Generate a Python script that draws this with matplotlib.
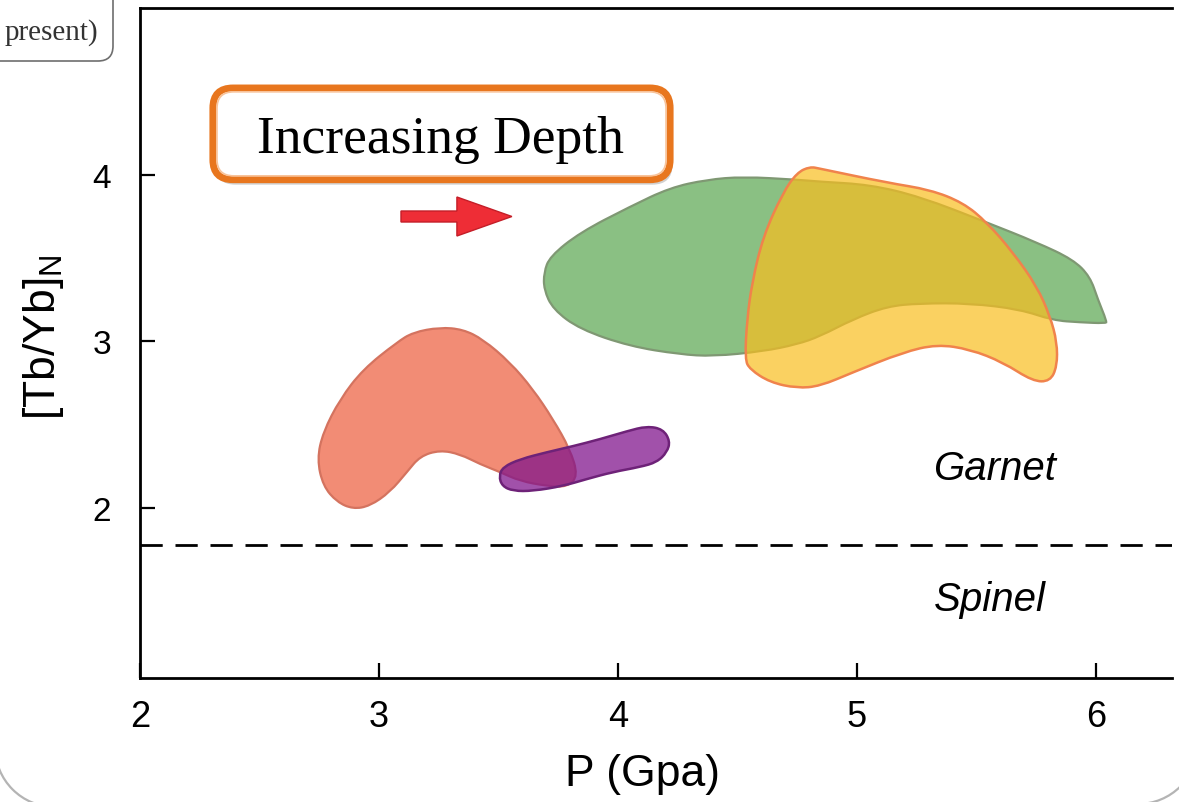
import numpy as np
import matplotlib
matplotlib.use('Agg')
from matplotlib import pyplot as plt
from matplotlib.path import Path
from matplotlib.patches import PathPatch, FancyBboxPatch, FancyArrow, Arc
from matplotlib.colors import to_rgba

plt.rcParams['font.family'] = ['Liberation Sans', 'DejaVu Sans']
plt.rcParams['mathtext.default'] = 'regular'
plt.rcParams['savefig.bbox'] = 'standard'

# outline of each field, P (GPa) vs [Tb/Yb]N
salmon_p = [3.255, 3.142, 3.075, 2.933, 2.837, 2.766, 2.741, 2.766, 2.824, 2.891,
            2.962, 3.046, 3.117, 3.172, 3.255, 3.339, 3.423, 3.506, 3.590, 3.703,
            3.787, 3.833, 3.799, 3.728, 3.644, 3.548, 3.435, 3.351]
salmon_tb = [3.084, 3.054, 2.994, 2.832, 2.653, 2.455, 2.293, 2.132, 2.036, 1.994,
             2.012, 2.096, 2.216, 2.311, 2.347, 2.323, 2.263, 2.216, 2.162, 2.132,
             2.126, 2.192, 2.353, 2.533, 2.713, 2.874, 3.012, 3.072]

purple_p = [3.502, 3.519, 3.590, 3.703, 3.812, 3.925, 4.038, 4.121, 4.188, 4.218,
            4.205, 4.163, 4.092, 3.979, 3.870, 3.770, 3.644, 3.561, 3.515]
purple_tb = [2.192, 2.246, 2.293, 2.335, 2.371, 2.413, 2.461, 2.491, 2.473, 2.401,
             2.335, 2.275, 2.246, 2.216, 2.174, 2.132, 2.102, 2.102, 2.132]

green_p = [3.690, 3.715, 3.841, 4.050, 4.218, 4.372, 4.523, 4.749, 4.845, 5.054,
           5.264, 5.544, 5.753, 5.904, 5.975, 6.008, 6.045, 6.040, 5.933, 5.820,
           5.682, 5.473, 5.264, 5.126, 4.983, 4.845, 4.749, 4.607, 4.397, 4.259,
           4.050, 3.841, 3.728, 3.690]
green_tb = [3.413, 3.509, 3.653, 3.808, 3.922, 3.970, 3.988, 3.970, 3.958, 3.940,
            3.868, 3.713, 3.593, 3.491, 3.389, 3.251, 3.120, 3.108, 3.114, 3.126,
            3.192, 3.228, 3.228, 3.210, 3.132, 3.030, 2.982, 2.940, 2.910, 2.922,
            2.970, 3.072, 3.192, 3.311]

yellow_p = [4.749, 4.803, 4.845, 5.126, 5.305, 5.444, 5.544, 5.653, 5.753, 5.808,
            5.837, 5.837, 5.808, 5.736, 5.611, 5.473, 5.335, 5.192, 4.983, 4.845,
            4.749, 4.636, 4.552, 4.531, 4.540, 4.561, 4.607, 4.690]
yellow_tb = [4.012, 4.048, 4.036, 3.952, 3.910, 3.832, 3.713, 3.533, 3.329, 3.150,
             2.994, 2.850, 2.760, 2.760, 2.874, 2.952, 2.982, 2.934, 2.814, 2.731,
             2.719, 2.754, 2.832, 2.892, 3.132, 3.353, 3.629, 3.892]

spinel_garnet = 1.78
x_ticks = [2, 3, 4, 5, 6]
y_ticks = [2, 3, 4]


def blob(xs, ys):
    # closed smooth outline: quadratic curves through the outline points
    pts = np.column_stack([xs, ys])
    mids = (pts + np.roll(pts, -1, axis=0)) / 2
    verts = [mids[-1]]
    codes = [Path.MOVETO]
    for i in range(len(pts)):
        verts += [pts[i], mids[i]]
        codes += [Path.CURVE3, Path.CURVE3]
    verts.append(mids[-1])
    codes.append(Path.CLOSEPOLY)
    return Path(verts, codes)


def main():
    fig = plt.figure(figsize=(11.79, 8.03), dpi=100)
    W, H = 1179.0, 803.0
    inch = fig.dpi_scale_trans

    # corners of the panel frame (inches)
    for cx, cy, t1, t2 in [(0.55, 0.55, 180, 270), (11.38, 0.58, 270, 360)]:
        fig.add_artist(Arc((cx, cy), 1.2, 1.2, theta1=t1, theta2=t2, transform=inch,
                           color='#b4b4b4', lw=1.6))

    # legend box corner, the rest lies off the canvas
    legbox = FancyBboxPatch((-0.3, 7.41), 1.43, 0.8,
                            boxstyle='round,pad=0,rounding_size=0.15',
                            transform=inch, fc='white', ec='#6e6e6e', lw=1.2, zorder=5)
    fig.add_artist(legbox)
    fig.text(98 / W, (H - 40) / H, 'present)', ha='right', va='baseline',
             fontsize=21, family='Liberation Serif', color='#333333', zorder=6)

    ax = fig.add_axes([140 / W, (H - 679) / H, 1032 / W, 670 / H])
    ax.set_xlim(2, 2 + 1032 / 239.0)
    ax.set_ylim(0.98, 5.0)

    ax.add_patch(PathPatch(blob(green_p, green_tb), fc='#8ac083', ec='#7f9873', lw=1.6, zorder=2))
    ax.add_patch(PathPatch(blob(yellow_p, yellow_tb), fc=to_rgba((248/255, 190/255, 30/255), 0.7),
                           ec='#f0834c', lw=1.8, zorder=3))
    ax.add_patch(PathPatch(blob(salmon_p, salmon_tb), fc='#f28c75', ec='#d4735f', lw=1.6, zorder=2))
    ax.add_patch(PathPatch(blob(purple_p, purple_tb), fc=to_rgba((128/255, 20/255, 140/255), 0.74),
                           ec='#6e2278', lw=1.8, zorder=3))

    ax.axhline(spinel_garnet, color='black', lw=2, ls=(0, (8, 4.6)), zorder=1)

    ax.text(5.32, 2.24, 'Garnet', style='italic', fontsize=29, ha='left', va='center')
    ax.text(5.32, 1.455, 'Spinel', style='italic', fontsize=29, ha='left', va='center')

    # "Increasing Depth" label box with shadow
    asp = 239.0 / 167.0
    ax.add_patch(FancyBboxPatch((2.315, 3.94), 1.913, 0.55,
                                boxstyle='round,pad=0,rounding_size=0.084', mutation_aspect=asp,
                                fc='#9a9a9a', ec='none', alpha=0.45, zorder=6))
    ax.add_patch(FancyBboxPatch((2.305, 3.97), 1.913, 0.55,
                                boxstyle='round,pad=0,rounding_size=0.084', mutation_aspect=asp,
                                fc='white', ec='#e8761e', lw=5, zorder=7))
    ax.add_patch(FancyBboxPatch((2.322, 3.993), 1.879, 0.504,
                                boxstyle='round,pad=0,rounding_size=0.07', mutation_aspect=asp,
                                fc='none', ec='#f8c39a', lw=1.2, zorder=8))
    ax.text(3.258, 4.138, 'Increasing Depth', family='Liberation Serif', fontsize=38.5,
            ha='center', va='baseline', zorder=9)

    ax.add_patch(FancyArrow(3.092, 3.749, 0.464, 0, width=0.066, head_width=0.234,
                            head_length=0.23, length_includes_head=True,
                            fc='#ee2d36', ec='#c41e28', lw=1, zorder=6))

    ax.spines['right'].set_visible(False)
    for s in ['left', 'bottom', 'top']:
        ax.spines[s].set_linewidth(2)
    ax.set_xticks(x_ticks)
    ax.set_yticks(y_ticks)
    ax.tick_params(direction='in', length=11, width=1.6, top=False, right=False)
    ax.tick_params(axis='x', labelsize=26, pad=15)
    ax.tick_params(axis='y', labelsize=24, pad=21)

    ax.set_xlabel('P (Gpa)', fontsize=32)
    ax.xaxis.set_label_coords(0.487, -0.112)
    ax.set_ylabel(r'$[Tb/Yb]_N$', fontsize=32)
    ax.yaxis.set_label_coords(-0.072, 0.51)

    plt.savefig('out.png', dpi=100)


if __name__ == '__main__':
    main()
